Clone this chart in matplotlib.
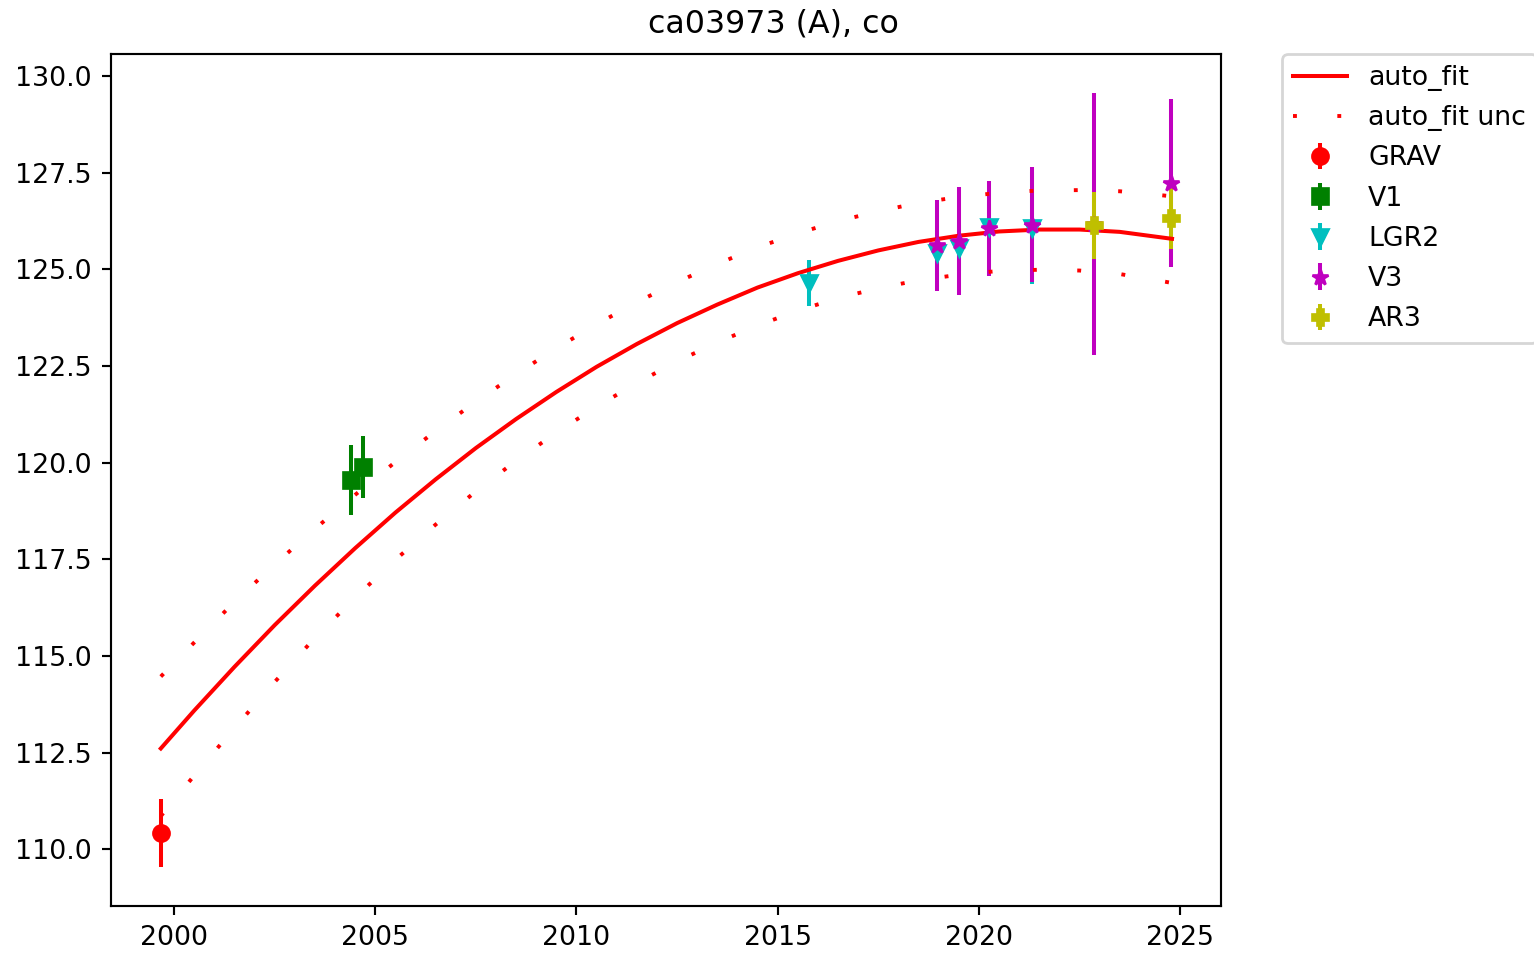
import matplotlib
matplotlib.use("Agg")
import matplotlib.pyplot as plt

# series: epoch (decimal year), value, 1-sigma error
grav_t = [1999.67]
grav_v = [110.42]
grav_e = [0.88]

v1_t = [2004.40, 2004.70]
v1_v = [119.55, 119.89]
v1_e = [0.91, 0.81]

lgr2_t = [2015.79, 2018.97, 2019.50, 2020.25, 2021.31]
lgr2_v = [124.64, 125.43, 125.56, 126.09, 126.07]
lgr2_e = [0.60, 0.60, 0.60, 0.60, 1.45]

v3_t = [2018.97, 2019.50, 2020.25, 2021.31, 2022.87, 2024.78]
v3_v = [125.62, 125.74, 126.06, 126.16, 126.18, 127.24]
v3_e = [1.18, 1.40, 1.23, 1.48, 3.39, 2.17]

ar3_t = [2022.87, 2024.78]
ar3_v = [126.14, 126.32]
ar3_e = [0.86, 0.80]

# fitted curve and its uncertainty envelope
fit_t = [1999.67, 2000.5, 2001.5, 2002.5, 2003.5, 2004.5, 2005.5, 2006.5,
         2007.5, 2008.5, 2009.5, 2010.5, 2011.5, 2012.5, 2013.5, 2014.5,
         2015.5, 2016.5, 2017.5, 2018.5, 2019.5, 2020.5, 2021.5, 2022.5,
         2023.5, 2024.8]
fit_v = [112.61, 113.59, 114.72, 115.80, 116.82, 117.79, 118.71, 119.57,
         120.38, 121.13, 121.83, 122.48, 123.07, 123.61, 124.09, 124.53,
         124.90, 125.22, 125.49, 125.71, 125.87, 125.98, 126.03, 126.03,
         125.97, 125.79]
fit_hi = [114.47, 115.35, 116.40, 117.37, 118.29, 119.17, 120.02, 120.82,
          121.58, 122.29, 122.96, 123.58, 124.15, 124.67, 125.14, 125.57,
          125.93, 126.25, 126.50, 126.72, 126.87, 126.98, 127.04, 127.05,
          127.02, 126.89]
fit_lo = [110.86, 111.91, 113.14, 114.33, 115.47, 116.51, 117.49, 118.40,
          119.26, 120.05, 120.78, 121.45, 122.06, 122.62, 123.11, 123.55,
          123.93, 124.26, 124.51, 124.72, 124.86, 124.96, 124.99, 124.97,
          124.88, 124.65]

s = 0.965  # scale for sizes at this dpi
plt.rcParams['font.size'] = 10 * s
plt.rcParams['axes.linewidth'] = 0.8 * s
plt.rcParams['xtick.major.width'] = 0.8 * s
plt.rcParams['ytick.major.width'] = 0.8 * s
plt.rcParams['xtick.major.size'] = 3.5 * s
plt.rcParams['ytick.major.size'] = 3.5 * s
plt.rcParams['lines.linewidth'] = 1.5 * s
plt.rcParams['lines.markersize'] = 6 * s
plt.rcParams['lines.markeredgewidth'] = 1.0 * s

fig = plt.figure(figsize=(7.67, 4.775), dpi=200)
ax = fig.add_axes([0.0724, 0.0513, 0.7238, 0.8918])

ax.errorbar(grav_t, grav_v, yerr=grav_e, fmt='ro', label='GRAV')
ax.errorbar(v1_t, v1_v, yerr=v1_e, fmt='gs', label='V1')
ax.errorbar(lgr2_t, lgr2_v, yerr=lgr2_e, fmt='cv', label='LGR2')
ax.errorbar(v3_t, v3_v, yerr=v3_e, fmt='m*', label='V3')
ax.errorbar(ar3_t, ar3_v, yerr=ar3_e, fmt='yP', label='AR3')

ax.plot(fit_t, fit_v, 'r-', label='auto_fit')
ax.plot(fit_t, fit_hi, color='r', lw=1.4, linestyle=(0, (1, 10.4)), label='auto_fit unc')
ax.plot(fit_t, fit_lo, color='r', lw=1.4, linestyle=(0, (1, 10.4)))

ax.set_xlim(1998.434, 2026.026)
ax.set_ylim(108.536, 130.561)

ax.legend(loc='upper left', bbox_to_anchor=(1.055, 1), borderaxespad=0,
          labelspacing=0.53)
fig.suptitle('ca03973 (A), co', x=0.504, y=0.9662, va='baseline', fontsize=11.4)

fig.savefig('out.png', dpi=200)
